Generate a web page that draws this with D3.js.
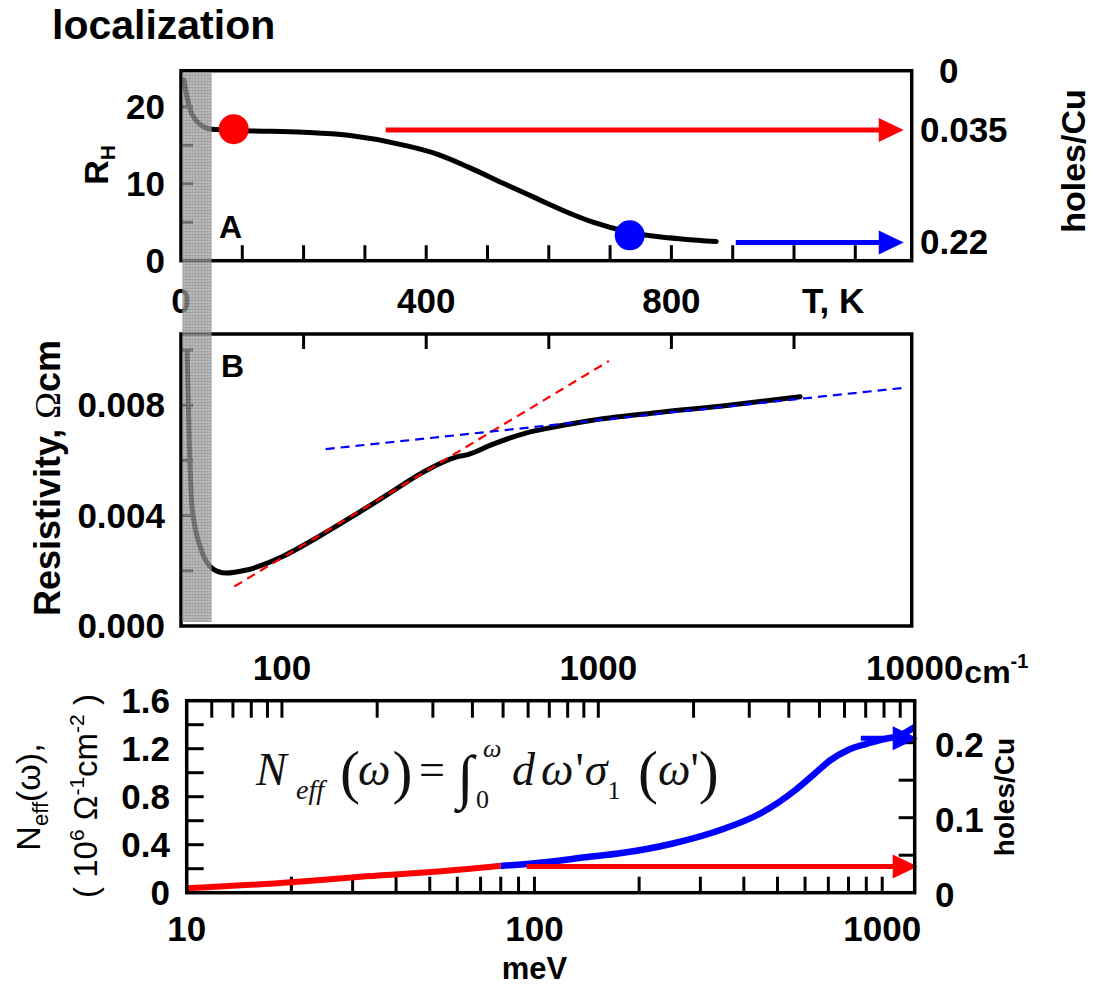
<!DOCTYPE html>
<html><head><meta charset="utf-8">
<script src="https://cdn.jsdelivr.net/npm/d3@7"></script>
<style>
html,body{margin:0;padding:0;background:#fff;}
svg{display:block;}
</style></head>
<body>
<svg id="c" width="1097" height="985" font-family="Liberation Sans, Arial, sans-serif"></svg>
<script>
// ---------- DATA ----------
// Panel A: Hall coefficient vs T
const hallT = [5, 10, 16, 25, 35, 50, 107, 200, 273, 365, 420, 468, 530, 577, 630, 672, 732, 780, 821, 873];
const hallR = [23.5, 21.2, 19.4, 18.2, 17.5, 17.1, 16.9, 16.7, 16.3, 15.0, 13.8, 12.2, 9.9, 8.2, 6.3, 5.0, 3.7, 3.1, 2.8, 2.5];
const hallMarkT = [86, 732];
const hallMarkR = [17.1, 3.3];
const hallMarkColor = ["#ff0000", "#0000ff"];
const holeLabels = ["0", "0.035", "0.22"];
const holeLabelR = [24.7, 17.0, 2.37];
const hallArrowStartT = [334, 905];
const hallArrowR = [17.0, 2.37];
const hallArrowColor = ["#ff0000", "#0000ff"];
const tTickLabels = [0, 400, 800];
const tMinorTicks = [100, 200, 300, 400, 500, 600, 700, 800, 900, 1000, 1100];
const rTickLabels = [0, 10, 20];
const rMinorTicks = [5, 10, 15, 20];

// Panel B: resistivity vs T
const rhoT = [10, 14, 18, 33, 52, 73, 107, 164, 221, 279, 336, 393, 450, 468, 507, 564, 604, 661, 775, 890, 1010];
const rhoVal = [0.0099, 0.0063, 0.0043, 0.00276, 0.00207, 0.00192, 0.00203, 0.0025, 0.00319, 0.00396, 0.00475, 0.00555, 0.00613, 0.00621, 0.00657, 0.0070, 0.00719, 0.00742, 0.00773, 0.00799, 0.00831];
const fitRedT = [87, 698];
const fitRedRho = [0.00143, 0.0096];
const fitBlueT = [236, 1179];
const fitBlueRho = [0.00641, 0.00863];
const rhoTickLabels = [0, 0.004, 0.008];
const rhoMinorTicks = [0.002, 0.004, 0.006, 0.008, 0.010];
const tTopTicks = [200, 400, 600, 800, 1000];

// Panel C: N_eff vs photon energy
const neffRedE = [10, 20, 31.6, 49.3, 80];
const neffRedN = [0.037, 0.087, 0.133, 0.17, 0.225];
const neffBlueE = [80, 111, 140, 176, 250, 354, 446, 563, 633, 711, 798, 897, 1007, 1131, 1240];
const neffBlueN = [0.222, 0.258, 0.295, 0.328, 0.41, 0.537, 0.66, 0.856, 0.981, 1.106, 1.189, 1.239, 1.278, 1.314, 1.38];
const eTickLabels = [10, 100, 1000];
const eMinorTicks = [20, 30, 40, 50, 60, 70, 80, 90, 100, 200, 300, 400, 500, 600, 700, 800, 900, 1000];
const wTickLabels = [100, 1000, 10000];
const wMinorTicks = [60, 70, 80, 90, 100, 200, 300, 400, 500, 600, 700, 800, 900, 1000, 2000, 3000, 4000, 5000, 6000, 7000, 8000, 9000];
const nTickLabels = [0, 0.4, 0.8, 1.2, 1.6];
const nMinorTicks = [0.2, 0.4, 0.6, 0.8, 1.0, 1.2, 1.4];
const hTickLabels = [0, 0.1, 0.2];
const hMinorTicks = [0.05, 0.1, 0.15, 0.2];
const neffArrowStartE = [95, 868];
const neffArrowH = [0.035, 0.206];
const neffArrowColor = ["#ff0000", "#0000ff"];

// ---------- SCALES ----------
const xT = d3.scaleLinear().domain([0, 1192]).range([181, 911.7]);
const yR = d3.scaleLinear().domain([0, 24.7]).range([260.7, 70.7]);
const yRho = d3.scaleLinear().domain([0, 0.01058]).range([626, 334]);
const xE = d3.scaleLog().domain([10, 1240]).range([186.7, 914.7]);
const xW = d3.scaleLog().domain([50, 10000]).range([186.7, 914.7]);
const yN = d3.scaleLinear().domain([0, 1.6]).range([892.7, 700.7]);
const yH = d3.scaleLinear().domain([0, 0.256]).range([892.7, 700.7]);

const svg = d3.select("#c");
const defs = svg.append("defs");
const pat = defs.append("pattern").attr("id", "band").attr("patternUnits", "userSpaceOnUse")
  .attr("width", 3).attr("height", 3);
pat.append("rect").attr("width", 3).attr("height", 3).attr("fill", "#a2a2a2");
pat.append("rect").attr("width", 3).attr("height", 1).attr("fill", "#858585");
pat.append("rect").attr("width", 1).attr("height", 3).attr("fill", "#8b8b8b");

const FS = 35;
function boldText(g, x, y, s, size, anchor) {
  return g.append("text").attr("x", x).attr("y", y).attr("font-size", size || FS)
    .attr("font-weight", "bold").attr("text-anchor", anchor || "start").text(s);
}
function frame(x0, x1, y0, y1) {
  svg.append("rect").attr("x", x0).attr("y", y0).attr("width", x1 - x0).attr("height", y1 - y0)
    .attr("fill", "none").attr("stroke", "#000").attr("stroke-width", 3.5);
}
function arrow(x1, x2, y, color, sw) {
  const hl = 25, hw = 12;
  svg.append("line").attr("x1", x1).attr("x2", x2 - hl + 2).attr("y1", y).attr("y2", y)
    .attr("stroke", color).attr("stroke-width", sw || 5);
  svg.append("path").attr("d", `M${x2},${y}L${x2 - hl},${y - hw}L${x2 - hl},${y + hw}Z`).attr("fill", color);
}

// title
boldText(svg, 52, 39, "localization", 41);

// ================= PANEL A =================
const gA = svg.append("g");
tMinorTicks.forEach(t => gA.append("line").attr("x1", xT(t)).attr("x2", xT(t))
  .attr("y1", yR(0)).attr("y2", yR(0) - 15.5).attr("stroke", "#000").attr("stroke-width", 3));
rMinorTicks.forEach(r => gA.append("line").attr("x1", xT(0)).attr("x2", xT(0) + 12)
  .attr("y1", yR(r)).attr("y2", yR(r)).attr("stroke", "#000").attr("stroke-width", 3));
const lineA = d3.line().x((d, i) => xT(hallT[i])).y((d, i) => yR(hallR[i])).curve(d3.curveMonotoneX);
gA.append("path").attr("d", lineA(hallT)).attr("fill", "none").attr("stroke", "#000")
  .attr("stroke-width", 5).attr("stroke-linecap", "round");
hallArrowStartT.forEach((t, i) => arrow(xT(t), xT(1179), yR(hallArrowR[i]), hallArrowColor[i]));
hallMarkT.forEach((t, i) => gA.append("circle").attr("cx", xT(t)).attr("cy", yR(hallMarkR[i]))
  .attr("r", 15).attr("fill", hallMarkColor[i]));
frame(xT(0), xT(1192), yR(24.7), yR(0));
rTickLabels.forEach(r => boldText(svg, 165, yR(r) + 12, String(r), FS, "end"));
tTickLabels.forEach(t => boldText(svg, xT(t), 313, String(t), FS, "middle"));
boldText(svg, 802, 313, "T, K", FS);
holeLabels.forEach((s, i) => boldText(svg, i === 0 ? 939 : 920, yR(holeLabelR[i]) + 12, s, FS));
boldText(svg, 1073, 161, "holes/Cu", 34, "middle").attr("transform", "rotate(-90,1073,161)")
  .attr("dominant-baseline", "central");
const rh = svg.append("text").attr("transform", "translate(108,165) rotate(-90)")
  .attr("text-anchor", "middle").attr("font-weight", "bold").attr("font-size", 34);
rh.append("tspan").text("R");
rh.append("tspan").attr("font-size", 21).attr("dy", 7).text("H");
boldText(svg, 219, 238, "A", 32);

// ================= PANEL B =================
const gB = svg.append("g");
tTopTicks.forEach(t => gB.append("line").attr("x1", xT(t)).attr("x2", xT(t))
  .attr("y1", yRho.range()[1]).attr("y2", yRho.range()[1] + 15).attr("stroke", "#000").attr("stroke-width", 3));
rhoMinorTicks.forEach(r => gB.append("line").attr("x1", xT(0)).attr("x2", xT(0) + 12)
  .attr("y1", yRho(r)).attr("y2", yRho(r)).attr("stroke", "#000").attr("stroke-width", 3));
const lineB = d3.line().x((d, i) => xT(rhoT[i])).y((d, i) => yRho(rhoVal[i])).curve(d3.curveMonotoneX);
gB.append("path").attr("d", lineB(rhoT)).attr("fill", "none").attr("stroke", "#000")
  .attr("stroke-width", 5).attr("stroke-linecap", "round");
const fitLine = (T, V) => d3.line().x((d, i) => xT(T[i])).y((d, i) => yRho(V[i]))(T);
gB.append("path").attr("d", fitLine(fitRedT, fitRedRho)).attr("stroke", "#ff0000").attr("stroke-width", 2.2)
  .attr("stroke-dasharray", "9,6").attr("fill", "none");
gB.append("path").attr("d", fitLine(fitBlueT, fitBlueRho)).attr("stroke", "#0000ff").attr("stroke-width", 2.2)
  .attr("stroke-dasharray", "9,6").attr("fill", "none");
frame(xT(0), xT(1192), yRho.range()[1], yRho.range()[0]);
rhoTickLabels.forEach(r => boldText(svg, 165, yRho(r) + 12, r.toFixed(3), FS, "end"));
boldText(svg, 221, 377, "B", 32);
const rs = svg.append("text").attr("transform", "translate(60,478) rotate(-90)")
  .attr("text-anchor", "middle").attr("font-weight", "bold").attr("font-size", 36);
rs.append("tspan").text("Resistivity, ");
rs.append("tspan").attr("font-weight", "normal").style("font-family", "Liberation Serif, serif").text("Ω");
rs.append("tspan").text("cm");

// gray band overlay (low-temperature region)
svg.append("rect").attr("x", xT(2.1)).attr("y", 73).attr("width", xT(50) - xT(2.1)).attr("height", 622 - 73)
  .attr("fill", "url(#band)").attr("opacity", 0.76);

// ================= PANEL C =================
const gC = svg.append("g");
eMinorTicks.forEach(e => gC.append("line").attr("x1", xE(e)).attr("x2", xE(e))
  .attr("y1", yN(0)).attr("y2", yN(0) - 16).attr("stroke", "#000").attr("stroke-width", 3));
wMinorTicks.forEach(w => gC.append("line").attr("x1", xW(w)).attr("x2", xW(w))
  .attr("y1", yN(1.6)).attr("y2", yN(1.6) + 17).attr("stroke", "#000").attr("stroke-width", 3));
nMinorTicks.forEach(n => gC.append("line").attr("x1", xE(10)).attr("x2", xE(10) + 17)
  .attr("y1", yN(n)).attr("y2", yN(n)).attr("stroke", "#000").attr("stroke-width", 3));
hMinorTicks.forEach(h => gC.append("line").attr("x1", xE(1240)).attr("x2", xE(1240) - 16)
  .attr("y1", yH(h)).attr("y2", yH(h)).attr("stroke", "#000").attr("stroke-width", 3));
const lineC = (E, N) => d3.line().x((d, i) => xE(E[i])).y((d, i) => yN(N[i])).curve(d3.curveMonotoneX)(E);
gC.append("path").attr("d", lineC(neffRedE, neffRedN)).attr("fill", "none").attr("stroke", "#ff0000").attr("stroke-width", 6);
gC.append("path").attr("d", lineC(neffBlueE, neffBlueN)).attr("fill", "none").attr("stroke", "#0000ff").attr("stroke-width", 6.5);
neffArrowStartE.forEach((e, i) => arrow(xE(e), xE(1240) + 3, yH(neffArrowH[i]), neffArrowColor[i]));
frame(xE(10), xE(1240), yN(1.6), yN(0));

let lastW = null;
wTickLabels.forEach(w => { lastW = boldText(svg, xW(w), 680, String(w), FS, "middle"); });
const wEnd = xW(10000) + lastW.node().getComputedTextLength() / 2;
const cmL = boldText(svg, wEnd + 1, 683, "cm", 32);
cmL.append("tspan").attr("font-size", 20).attr("dy", -15).text("-1");
eTickLabels.forEach(e => boldText(svg, xE(e), 941, String(e), FS, "middle"));
boldText(svg, xE(100), 979, "meV", 31, "middle");
nTickLabels.forEach(n => boldText(svg, 170, yN(n) + 12, n === 0 ? "0" : n.toFixed(1), FS, "end"));
hTickLabels.forEach(h => boldText(svg, 935, yH(h) + 14, h === 0 ? "0" : h.toFixed(1), FS));
boldText(svg, 1004, 797, "holes/Cu", 28, "middle").attr("transform", "rotate(-90,1004,797)")
  .attr("dominant-baseline", "central");

// y-label (two lines, normal weight)
const n1 = svg.append("text").attr("transform", "translate(40,797) rotate(-90)")
  .attr("text-anchor", "middle").attr("font-size", 34);
n1.append("tspan").text("N");
n1.append("tspan").attr("font-size", 22).attr("dy", 8).text("eff");
n1.append("tspan").attr("dy", -8).text("(ω),");
const n2 = svg.append("text").attr("transform", "translate(97,796) rotate(-90)")
  .attr("text-anchor", "middle").attr("font-size", 33);
n2.append("tspan").text("( 10");
n2.append("tspan").attr("font-size", 21).attr("dy", -13).text("6");
n2.append("tspan").attr("dy", 13).text("  Ω");
n2.append("tspan").attr("font-size", 21).attr("dy", -13).text("-1");
n2.append("tspan").attr("dy", 13).text("cm");
n2.append("tspan").attr("font-size", 21).attr("dy", -13).text("-2");
n2.append("tspan").attr("dy", 13).text(" )");

// formula
const ff = "'Liberation Serif', 'Times New Roman', serif";
function ft(x, y, size) {
  return svg.append("text").attr("x", x).attr("y", y).style("font-family", ff).attr("font-size", size).attr("fill", "#111");
}
ft(256, 785, 46).attr("font-style", "italic").text("N");
ft(296, 799, 28).attr("font-style", "italic").text("eff");
const t0 = ft(340, 792, 60);
t0.append("tspan").text("(");
t0.append("tspan").attr("font-size", 46).attr("font-style", "italic").attr("dx", -2).attr("dy", -7).text("ω");
t0.append("tspan").attr("dx", 2).attr("dy", 7).text(")");
ft(419, 785, 46).text("=");
ft(457, 797, 60).text("∫");
ft(483, 757, 26).attr("font-style", "italic").text("ω");
ft(476, 808, 26).text("0");
const t1 = ft(512, 785, 46);
t1.append("tspan").attr("font-style", "italic").text("d");
t1.append("tspan").attr("font-style", "italic").attr("dx", 6).text("ω");
t1.append("tspan").attr("dx", 2).text("'");
t1.append("tspan").attr("font-style", "italic").attr("dx", 1).text("σ");
t1.append("tspan").attr("font-size", 26).attr("dy", 14).text("1");
const t2 = ft(638, 792, 60);
t2.append("tspan").text("(");
t2.append("tspan").attr("font-size", 46).attr("font-style", "italic").attr("dy", -7).text("ω");
t2.append("tspan").attr("font-size", 46).text("'");
t2.append("tspan").attr("dy", 7).text(")");
</script>
</body></html>
